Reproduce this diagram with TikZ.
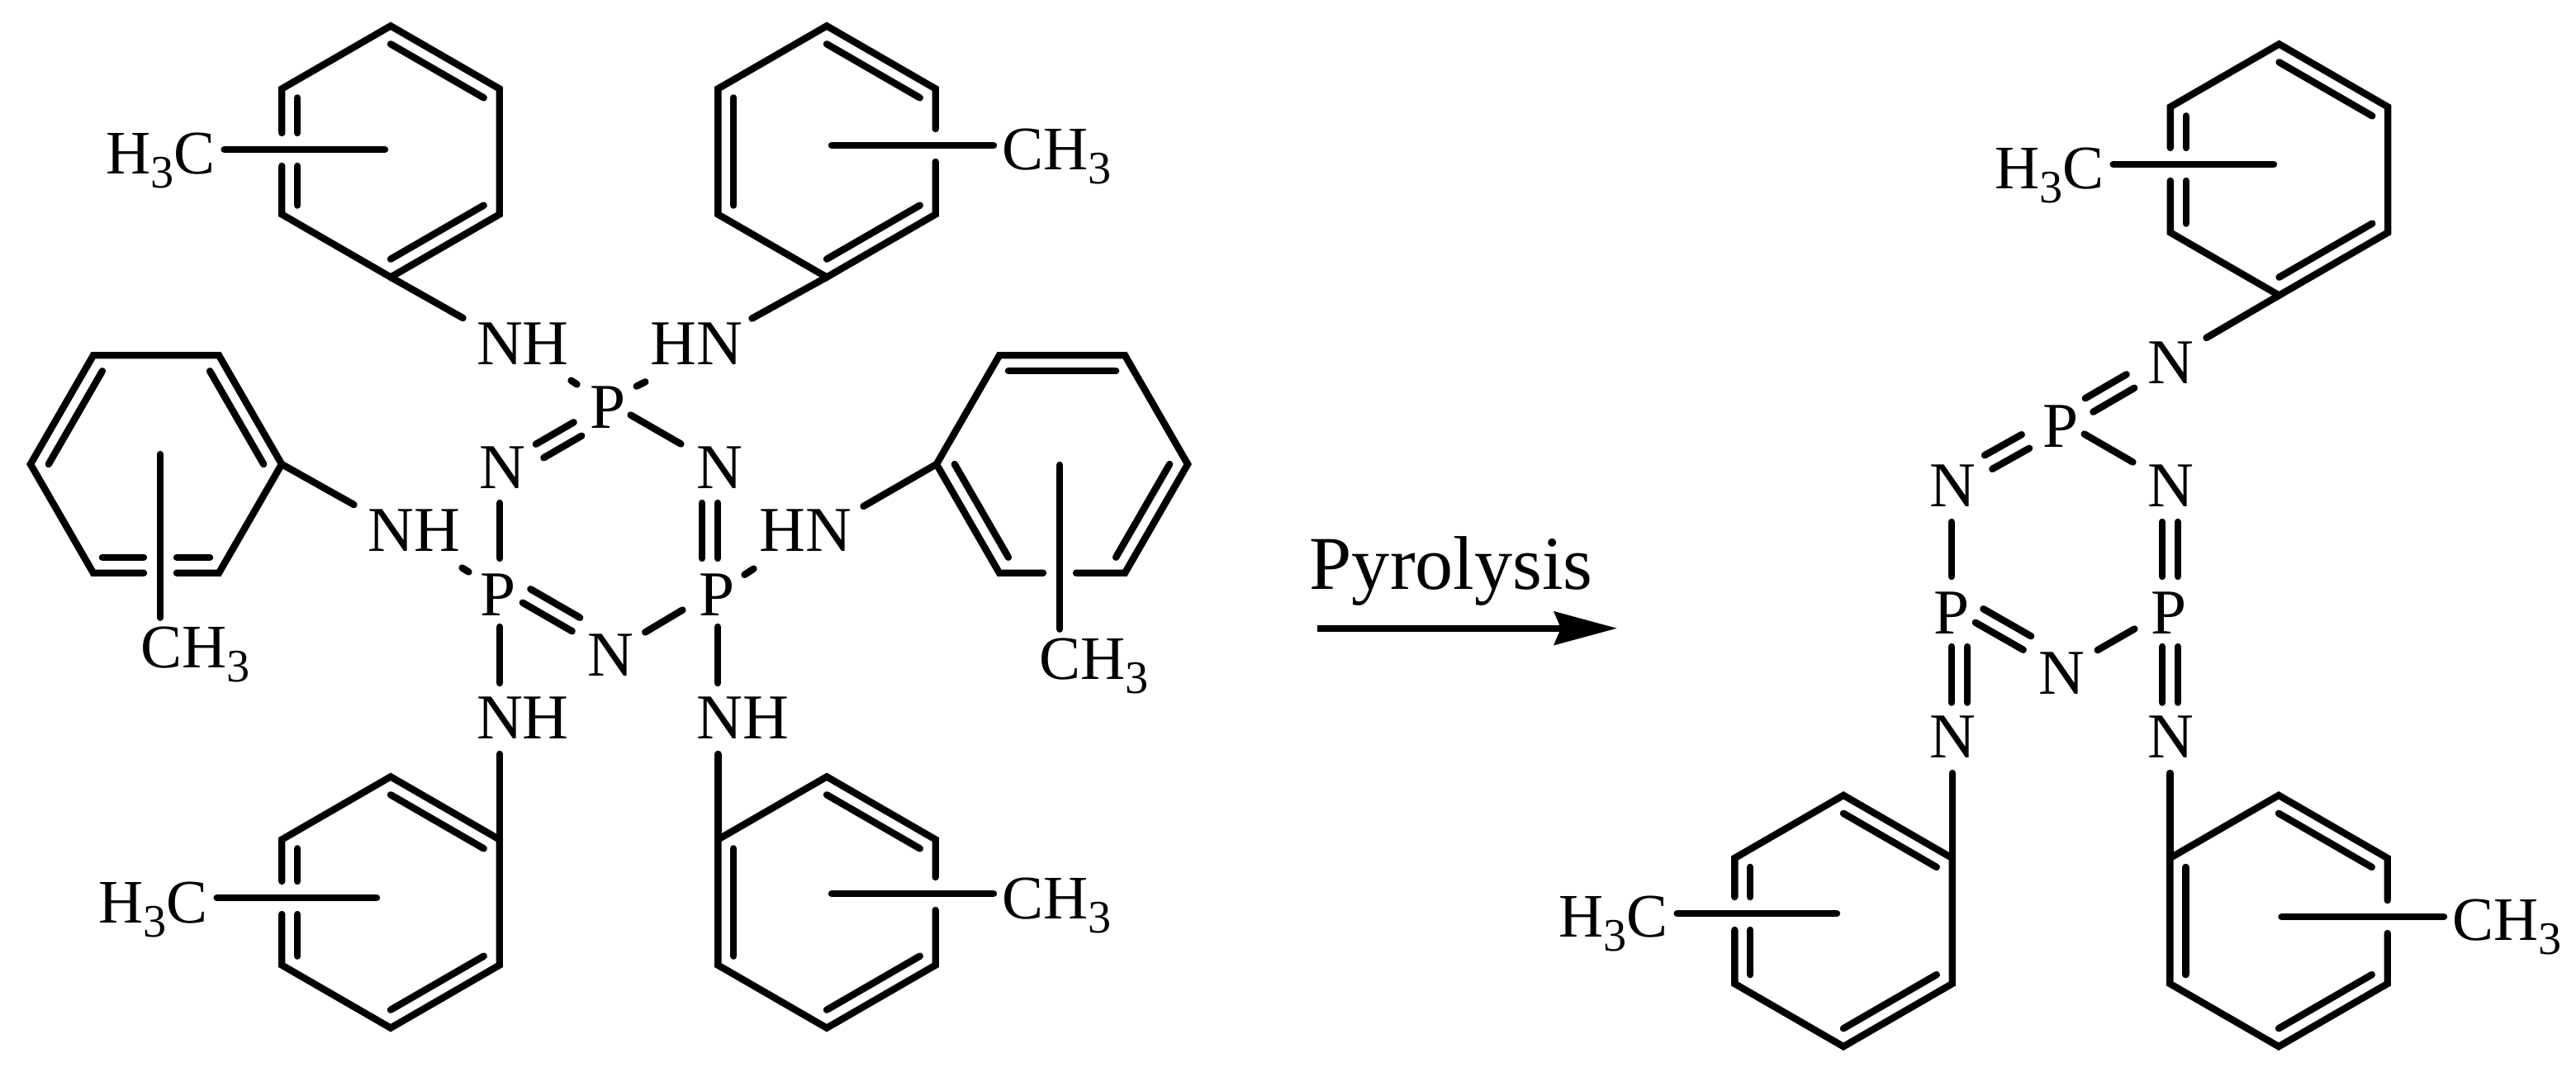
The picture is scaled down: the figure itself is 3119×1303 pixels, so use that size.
\documentclass[tikz,border=0pt]{standalone}
\usepackage{fontspec}
\setmainfont{Liberation Serif}
\usetikzlibrary{calc,arrows.meta}

\newcommand{\chemsub}[1]{\raisebox{-5pt}{\fontsize{16}{18}\selectfont #1}}
\newcommand{\ringat}[4]{%
  \coordinate (#1) at (#2,#3);
  \foreach \i in {1,...,6} {
    \coordinate (#1\i) at ($(#1)+({#4-60*(\i-1)}:1.52cm)$);
    \coordinate (#1i\i) at ($(#1)!.856!(#1\i)$);
  }
}
\newcommand{\dbond}[2]{%
  \coordinate (da) at ($#1$);
  \coordinate (db) at ($#2$);
  \draw[link] ($(da)!.095cm!90:(db)$) -- ($(db)!.095cm!-90:(da)$);
  \draw[link] ($(da)!.095cm!-90:(db)$) -- ($(db)!.095cm!90:(da)$);
}

\begin{document}
\begin{tikzpicture}[x=.01cm,y=-.01cm]
  \tikzset{atom/.style = {font=\fontsize{22}{24}\selectfont,inner sep=.03cm}}
  \tikzset{methyl/.style = {font=\fontsize{21.3}{24}\selectfont,anchor=base west,inner sep=.1cm}}
  \tikzset{bond/.style = {line width=.084cm,line cap=round,line join=miter}}
  \tikzset{link/.style = {bond,shorten >=.03cm,shorten <=.03cm}}
  \tikzset{tail/.style = {bond,shorten >=.04cm}}

\useasboundingbox (0,0) rectangle (3119,1303);

\node[atom] (nh1) at (633,416) {NH};
\node[atom] (hn1) at (843,416) {HN};
\node[atom] (p1) at (736,493.5) {P};
\node[atom] (n1) at (608,566) {N};
\node[atom] (n2) at (871,566) {N};
\node[atom] (nh3) at (501.5,642) {NH};
\node[atom] (hn3) at (975.5,642) {HN};
\node[atom] (p2) at (603.5,720) {P};
\node[atom] (p3) at (868,720) {P};
\node[atom] (n3) at (739,793) {N};
\node[atom] (nh5) at (633,869.5) {NH};
\node[atom] (nh6) at (899,869.5) {NH};

\node[atom] (nr1) at (2628,439) {N};
\node[atom] (pr1) at (2495,516.5) {P};
\node[atom] (nr2) at (2364,588) {N};
\node[atom] (nr3) at (2628,588) {N};
\node[atom] (pr2) at (2363,742.5) {P};
\node[atom] (pr3) at (2626,742.5) {P};
\node[atom] (nr4) at (2496,815) {N};
\node[atom] (nr5) at (2364,892) {N};
\node[atom] (nr6) at (2628,892) {N};

\node[methyl] (mea) at (118,210) {H\chemsub{3}C};
\node[methyl] (meb) at (1203,205) {CH\chemsub{3}};
\node[methyl] (mec) at (160,808) {CH\chemsub{3}};
\node[methyl] (mef) at (1248,822) {CH\chemsub{3}};
\node[methyl] (med) at (109,1117) {H\chemsub{3}C};
\node[methyl] (mee) at (1203,1112) {CH\chemsub{3}};
\node[methyl] (meg) at (2405,228) {H\chemsub{3}C};
\node[methyl] (meh) at (1877,1134) {H\chemsub{3}C};
\node[methyl] (mej) at (2959,1138) {CH\chemsub{3}};

\ringat{A}{473}{183.5}{90}
\ringat{B}{1001}{183.5}{90}
\ringat{C}{189}{562}{120}
\ringat{F}{1286}{562}{120}
\ringat{D}{473}{1092.5}{90}
\ringat{E}{1001}{1092.5}{90}
\ringat{G}{2759.5}{205.5}{90}
\ringat{H}{2232}{1115}{90}
\ringat{J}{2759}{1115}{90}

\coordinate (Asub) at (466,181);
\coordinate (Dsub) at (456,1087);
\coordinate (Gsub) at (2753,199);
\coordinate (Hsub) at (2224,1106);
\coordinate (Bsub) at (1007,176);
\coordinate (Esub) at (1007,1082);
\coordinate (Jsub) at (2762.5,1110);
\coordinate (Csub) at (194,550);
\coordinate (Fsub) at (1283,563);

\foreach \rg in {A,D,G,H} {
  \draw[bond] ($(\rg6 |- \rg sub)+(0,-20)$) -- (\rg6) -- (\rg1) -- (\rg2) -- (\rg3) -- (\rg4) -- (\rg5) -- ($(\rg5 |- \rg sub)+(0,20)$);
  \draw[bond] (\rg i1) -- (\rg i2);
  \draw[bond] (\rg i3) -- (\rg i4);
  \draw[bond] (\rg i6) -- ($(\rg i6 |- \rg sub)+(0,-20)$);
  \draw[bond] (\rg i5) -- ($(\rg i5 |- \rg sub)+(0,20)$);
}
\foreach \rg in {B,E,J} {
  \draw[bond] ($(\rg2 |- \rg sub)+(0,-20)$) -- (\rg2) -- (\rg1) -- (\rg6) -- (\rg5) -- (\rg4) -- (\rg3) -- ($(\rg3 |- \rg sub)+(0,20)$);
  \draw[bond] (\rg i1) -- (\rg i2);
  \draw[bond] (\rg i3) -- (\rg i4);
  \draw[bond] (\rg i5) -- (\rg i6);
}
\foreach \rg in {C,F} {
  \draw[bond] ($(\rg5 -| \rg sub)+(-20,0)$) -- (\rg5) -- (\rg6) -- (\rg1) -- (\rg2) -- (\rg3) -- (\rg4) -- ($(\rg4 -| \rg sub)+(20,0)$);
}
\draw[bond] (Ci6) -- (Ci1);
\draw[bond] (Ci2) -- (Ci3);
\draw[bond] (Ci5) -- ($(Ci5 -| Csub)+(-20,0)$);
\draw[bond] (Ci4) -- ($(Ci4 -| Csub)+(20,0)$);
\draw[bond] (Fi1) -- (Fi2);
\draw[bond] (Fi3) -- (Fi4);
\draw[bond] (Fi5) -- (Fi6);

\draw[bond] (Asub) -- (Asub -| mea.east);
\draw[bond] (Dsub) -- (Dsub -| med.east);
\draw[bond] (Gsub) -- (Gsub -| meg.east);
\draw[bond] (Hsub) -- (Hsub -| meh.east);
\draw[bond] (Bsub) -- (Bsub -| meb.west);
\draw[bond] (Esub) -- (Esub -| mee.west);
\draw[bond] (Jsub) -- (Jsub -| mej.west);
\draw[bond] (Csub) -- (Csub |- mec.north);
\draw[bond] (Fsub) -- (Fsub |- mef.north);

\draw[tail] (A4) -- ($(nh1)+(-69,-29)$);
\draw[tail] (B4) -- ($(hn1)+(64,-28.5)$);
\draw[tail] (C3) -- ($(nh3)+(-69.5,-29)$);
\draw[tail] (F6) -- ($(hn3)+(66.5,-27)$);
\draw[tail] (D2) -- (D2 |- 0,909);
\draw[tail] (E6) -- (E6 |- 0,909);
\draw[tail] (G4) -- ($(nr1)+(40,-28)$);
\draw[tail] (H2) -- (H2 |- 0,932);
\draw[tail] (J6) -- (J6 |- 0,932);

\draw[link] ($(p1)+(-35,-26.5)$) -- ($(nh1)+(56,43)$);
\draw[link] ($(p1)+(32,-24.5)$) -- ($(hn1)+(-59,45)$);
\dbond{(p1)+(-34,24.5)}{(n1)+(43,-18.5)}
\draw[link] ($(p1)+(25,7.5)$) -- ($(n2)+(-44,-27)$);
\draw[link] ($(n1)+(-3,40)$) -- ($(p2)+(1.5,-41)$);
\dbond{(n2)+(-11.5,40)}{(p3)+(-8.5,-41)}
\draw[link] ($(p3)+(31,-22.5)$) -- ($(hn3)+(-60.5,45)$);
\draw[link] ($(p2)+(-33.5,-26)$) -- ($(nh3)+(55.5,44)$);
\dbond{(p2)+(31.5,0)}{(n3)+(-39,-35.5)}
\draw[link] ($(n3)+(39.6,-26)$) -- ($(p3)+(-39,17)$);
\draw[link] ($(p2)+(1.5,36)$) -- ($(nh5)+(-28,-39.5)$);
\draw[link] ($(p3)+(1,36)$) -- ($(nh6)+(-30,-39.5)$);

\dbond{(pr1)+(32,-24.5)}{(nr1)+(-46,21)}
\dbond{(pr1)+(-40,16.5)}{(nr2)+(41,-27)}
\draw[link] ($(pr1)+(26,7.5)$) -- ($(nr3)+(-43,-27)$);
\draw[link] ($(nr2)+(-1,41)$) -- ($(pr2)+(0,-41.5)$);
\dbond{(nr3)+(-.5,41)}{(pr3)+(1.5,-41.5)}
\dbond{(pr2)+(31,1.5)}{(nr4)+(-39,-35)}
\draw[link] ($(nr4)+(41,-26.4)$) -- ($(pr3)+(-39,17.5)$);
\dbond{(pr2)+(9.5,37.5)}{(nr5)+(8.5,-38.4)}
\dbond{(pr3)+(1.5,37.5)}{(nr6)+(-.5,-38.4)}

\node[font=\fontsize{26.2}{28}\selectfont,anchor=base west,inner sep=.1cm] (pyro) at (1575,713) {Pyrolysis};
\coordinate (arra) at (1595,760.7);
\coordinate (arrb) at (1958,760.7);
\draw[line width=.08cm,-{Stealth[length=.76cm,width=.4cm,inset=.08cm]}] (arra) -- (arrb);

\end{tikzpicture}
\end{document}
